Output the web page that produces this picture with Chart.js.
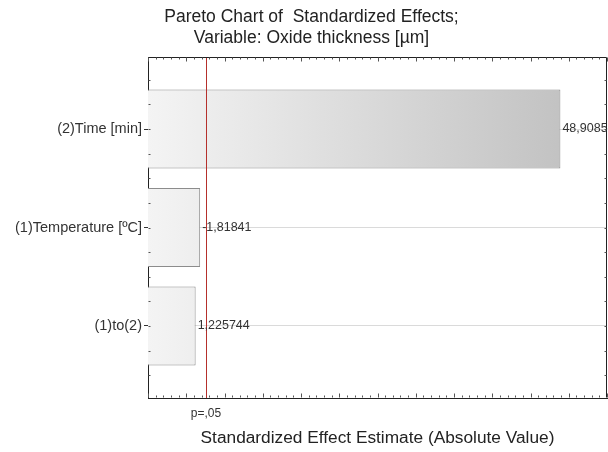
<!DOCTYPE html>
<html><head><meta charset="utf-8">
<script src="https://cdn.jsdelivr.net/npm/chart.js@4.4.1/dist/chart.umd.min.js"></script>
<style>html,body{margin:0;padding:0;background:#fff;}#wrap{width:608px;height:452px;}</style>
</head><body><div id="wrap"><canvas id="c" width="608" height="452"></canvas></div>
<script>
// ---- data ----
const categories = ['(2)Time [min]', '(1)Temperature [ºC]', '(1)to(2)'];
const effects = [48.9085, -1.81841, 1.225744];
const criticalValue = 2.5706;
const criticalLabel = 'p=,05';
const titleLines = ['Pareto Chart of  Standardized Effects;', 'Variable: Oxide thickness [\u00b5m]'];
const xTitle = 'Standardized Effect Estimate (Absolute Value)';
const xMin = -5, xMax = 55;

Chart.defaults.font.family = '"Liberation Sans", Arial, sans-serif';
const fmt = v => String(v).replace('.', ',');

const framePlugin = {
  id: 'frame',
  afterDatasetsDraw(chart) {
    const {ctx, chartArea: ca, scales} = chart;
    const xs = scales.x;
    const rx = Math.round(xs.getPixelForValue(criticalValue)) + 0.5;
    ctx.save();
    ctx.strokeStyle = '#b5302c';
    ctx.lineWidth = 1;
    ctx.beginPath(); ctx.moveTo(rx, ca.top); ctx.lineTo(rx, ca.bottom); ctx.stroke();
    // value labels
    ctx.fillStyle = '#333';
    ctx.font = '12.5px "Liberation Sans", Arial, sans-serif';
    ctx.textBaseline = 'middle';
    ctx.textAlign = 'left';
    chart.getDatasetMeta(0).data.forEach((bar, i) => {
      ctx.fillText(fmt(effects[i]), bar.x + 2, bar.y);
    });
    ctx.restore();
  },
  afterDraw(chart) {
    const {ctx, chartArea: ca, scales} = chart;
    const xs = scales.x, ys = scales.y;
    ctx.save();
    ctx.strokeStyle = '#222';
    ctx.lineWidth = 1;
    const top = Math.round(ca.top) + 0.5, right = Math.round(ca.right) - 0.5;
    const bottom = Math.round(ca.bottom) - 0.5, left = Math.round(ca.left) + 0.5;
    ctx.beginPath();
    ctx.moveTo(left, top); ctx.lineTo(right, top); ctx.lineTo(right, bottom);
    ctx.stroke();
    ctx.strokeStyle = '#555';
    ctx.beginPath();
    for (let v = xMin; v <= xMax; v++) {
      const px = Math.round(xs.getPixelForValue(v)) + 0.5;
      const len = (v % 5 === 0) ? 4 : 2;
      ctx.moveTo(px, bottom); ctx.lineTo(px, bottom - len);
      ctx.moveTo(px, top); ctx.lineTo(px, top + len);
    }
    for (let v = -0.5; v <= 2.5; v += 0.25) {
      const py = Math.round(ys.getPixelForValue(v)) + 0.5;
      ctx.moveTo(left, py); ctx.lineTo(left + 2, py);
      ctx.moveTo(right, py); ctx.lineTo(right - 2, py);
    }
    ctx.stroke();
    ctx.restore();
  }
};

new Chart(document.getElementById('c'), {
  type: 'bar',
  data: {
    datasets: [{
      data: effects.map((v, i) => ({x: Math.abs(v), y: i})),
      base: xMin,
      backgroundColor: (c) => {
        const ca = c.chart.chartArea;
        if (!ca) return '#e6e6e6';
        const g = c.chart.ctx.createLinearGradient(ca.left, 0, ca.right, 0);
        g.addColorStop(0, '#f4f4f4');
        g.addColorStop(1, '#bdbdbd');
        return g;
      },
      borderColor: '#8c8c8c',
      borderWidth: 1,
      categoryPercentage: 1,
      barPercentage: 0.8
    }]
  },
  options: {
    responsive: false,
    animation: false,
    indexAxis: 'y',
    layout: {padding: {left: 16, right: 1, top: 0, bottom: 0}},
    plugins: {
      legend: {display: false},
      tooltip: {enabled: false},
      title: {
        display: true,
        text: titleLines,
        color: '#222',
        font: {size: 17.5, weight: 'normal', lineHeight: 1.2},
        padding: {top: 6.5, bottom: 8.5}
      }
    },
    scales: {
      x: {
        type: 'linear', min: xMin, max: xMax, offset: false,
        grid: {display: false, drawTicks: false},
        border: {display: true, color: '#222'},
        afterBuildTicks: s => { s.ticks = [{value: criticalValue}]; },
        ticks: {callback: () => criticalLabel, color: '#333', font: {size: 12}, padding: 8, maxRotation: 0, autoSkip: false},
        title: {display: true, text: xTitle, color: '#222', font: {size: 17.3}, padding: {top: 2, bottom: 3.6}},
        afterFit: s => { s.height = 54; }
      },
      y: {
        type: 'linear', reverse: true, min: -0.731, max: 2.731, offset: false,
        afterBuildTicks: s => { s.ticks = categories.map((_, i) => ({value: i})); },
        ticks: {callback: v => categories[v], color: '#333', font: {size: 14.5}, padding: 2, autoSkip: false},
        grid: {color: '#dadada', tickLength: 4, tickColor: '#333', drawOnChartArea: true, offset: false},
        border: {display: true, color: '#222'},
        afterFit: s => { s.width = 132; }
      }
    }
  },
  plugins: [framePlugin]
});
</script></body></html>
